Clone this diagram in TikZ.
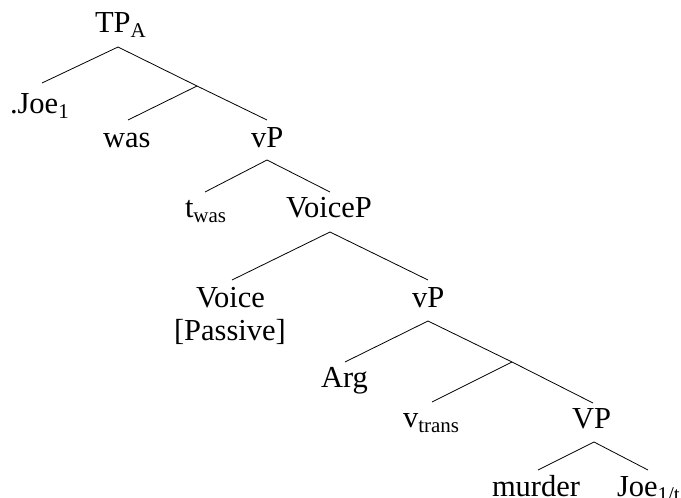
\documentclass[tikz,border=0pt]{standalone}
\usepackage{fontspec}
\setmainfont{Liberation Serif}
\newcommand{\sbs}[1]{\raisebox{-5pt}{\fontsize{21}{21}\selectfont #1}}
\begin{document}
\begin{tikzpicture}[x=1pt,y=-1pt,
  lab/.style={anchor=base west,inner sep=0pt,outer sep=0pt,font=\fontsize{30.5}{30.5}\selectfont},
  branch/.style={draw=black,line width=0.8pt}]
\useasboundingbox (0,0) rectangle (681,498);
\clip (0,0) rectangle (681,498);
% labels
\node[lab] (tp) at (95,32) {TP\sbs{A}};
\node[lab] (joe1) at (10,113) {.Joe\sbs{1}};
\node[lab] (was) at (103,147) {was};
\node[lab] (vp1) at (251,147) {vP};
\node[lab] (twas) at (185,217) {t\sbs{was}};
\node[lab] (voicep) at (286,217) {VoiceP};
\node[lab] (voice) at (196,307) {Voice};
\node[lab] (passive) at (174,340) {[Passive]};
\node[lab] (vp2) at (412,307) {vP};
\node[lab] (arg) at (321,387) {Arg};
\node[lab] (vtrans) at (403,427) {v\sbs{trans}};
\node[lab] (VP) at (572,428) {VP};
\node[lab] (murder) at (492,496) {murder};
\node[lab] (joe2) at (617,496) {Joe\sbs{1/t}};
% branch points
\coordinate (tpA) at (118,47);
\coordinate (joe1E) at (42,83);
\coordinate (bar1) at (197,86);
\coordinate (wasE) at (128,120);
\coordinate (vp1E) at (267,120);
\coordinate (vp1A) at (267,160);
\coordinate (twasE) at (205,192);
\coordinate (voicepE) at (330,192);
\coordinate (voicepA) at (330,232);
\coordinate (voiceE) at (232,280);
\coordinate (vp2E) at (428,280);
\coordinate (vp2A) at (428,321);
\coordinate (argE) at (345,362);
\coordinate (bar2) at (512,362);
\coordinate (vtransE) at (432,402);
\coordinate (VPE) at (593,403);
\coordinate (VPA) at (594,442);
\coordinate (murderE) at (538,470);
\coordinate (joe2E) at (648,470);
% branches
\draw[branch] (tpA) -- (joe1E);
\draw[branch] (tpA) -- (bar1) -- (vp1E);
\draw[branch] (bar1) -- (wasE);
\draw[branch] (vp1A) -- (twasE);
\draw[branch] (vp1A) -- (voicepE);
\draw[branch] (voicepA) -- (voiceE);
\draw[branch] (voicepA) -- (vp2E);
\draw[branch] (vp2A) -- (argE);
\draw[branch] (vp2A) -- (bar2) -- (VPE);
\draw[branch] (bar2) -- (vtransE);
\draw[branch] (VPA) -- (murderE);
\draw[branch] (VPA) -- (joe2E);
\end{tikzpicture}
\end{document}
